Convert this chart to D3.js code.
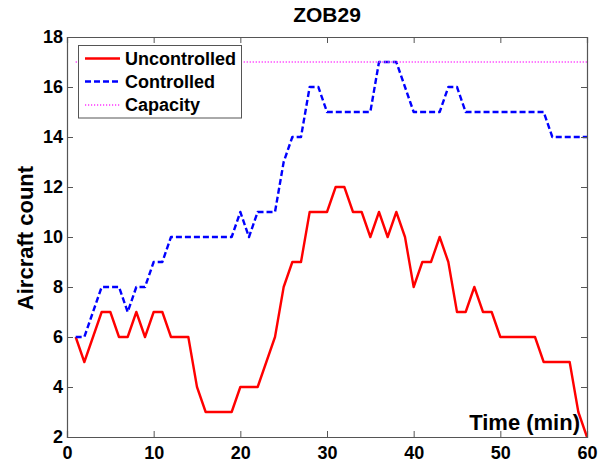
<!DOCTYPE html>
<html><head><meta charset="utf-8">
<script src="https://cdn.jsdelivr.net/npm/d3@7"></script>
<style>body{margin:0;background:#fff}svg text{font-family:"Liberation Sans",Arial,sans-serif;font-weight:bold}</style>
</head><body><svg id="c" width="612" height="466"></svg>
<script>
const title = "ZOB29";
const xLabel = "Time (min)";
const yLabel = "Aircraft count";
const minutes = d3.range(1, 61);
const uncontrolled = [6,5,6,7,7,6,6,7,6,7,7,6,6,6,4,3,3,3,3,4,4,4,5,6,8,9,9,11,11,11,12,12,11,11,10,11,10,11,10,8,9,9,10,9,7,7,8,7,7,6,6,6,6,6,5,5,5,5,3,2];
const controlled = [6,6,7,8,8,8,7,8,8,9,9,10,10,10,10,10,10,10,10,11,10,11,11,11,13,14,14,16,16,15,15,15,15,15,15,17,17,17,16,15,15,15,15,16,16,15,15,15,15,15,15,15,15,15,15,14,14,14,14,14];
const capacity = minutes.map(() => 17);
const xTicks = [0,10,20,30,40,50,60];
const yTicks = [2,4,6,8,10,12,14,16,18];
const seriesNames = ["Uncontrolled","Controlled","Capacity"];

const svg = d3.select("#c");
const L = 67, R = 587, T = 37, B = 437;
const x = d3.scaleLinear().domain([0,60]).range([L,R]);
const y = d3.scaleLinear().domain([2,18]).range([B,T]);
const axisColor = "#555";

const styles = [
  {color:"#ff0000", dash:null, w:2.4},
  {color:"#0000ff", dash:"6,3", w:2.4},
  {color:"#ff33ff", dash:"1.2,1.8", w:1.3}
];
const data = [uncontrolled, controlled, capacity];

const line = d3.line().x((d,i)=>x(minutes[i])).y(d=>y(d));
const g = svg.append("g");
data.forEach((s,k)=>{
  g.append("path").datum(s).attr("d", line).attr("fill","none")
    .attr("stroke", styles[k].color).attr("stroke-width", styles[k].w)
    .attr("stroke-dasharray", styles[k].dash).attr("stroke-linejoin","round");
});

// axes
const axBottom = svg.append("g").attr("transform",`translate(0,${B})`)
  .call(d3.axisBottom(x).tickValues(xTicks).tickSize(-6).tickPadding(10).tickFormat(d3.format("d")));
const axTop = svg.append("g").attr("transform",`translate(0,${T})`)
  .call(d3.axisTop(x).tickValues(xTicks).tickSize(-6).tickFormat(""));
const axLeft = svg.append("g").attr("transform",`translate(${L},0)`)
  .call(d3.axisLeft(y).tickValues(yTicks).tickSize(-6).tickPadding(4).tickFormat(d3.format("d")));
const axRight = svg.append("g").attr("transform",`translate(${R},0)`)
  .call(d3.axisRight(y).tickValues(yTicks).tickSize(-6).tickFormat(""));
[axBottom,axTop,axLeft,axRight].forEach(a=>{
  a.selectAll(".domain").attr("stroke",axisColor).attr("stroke-width",1.2);
  a.selectAll(".tick line").attr("stroke",axisColor);
  a.selectAll(".tick text").attr("font-size",18).attr("fill","#000")
    .attr("font-family","Liberation Sans, Arial, sans-serif").attr("font-weight","bold");
});
axBottom.selectAll(".tick text").attr("dy","0.71em").attr("y",9);
axLeft.selectAll(".tick text").attr("x",-4);

// labels
svg.append("text").attr("x",(L+R)/2).attr("y",22).attr("text-anchor","middle")
  .attr("font-size",21).text(title);
svg.append("text").attr("x",580).attr("y",430).attr("text-anchor","end")
  .attr("font-size",22).text(xLabel);
svg.append("text").attr("transform",`translate(33,238) rotate(-90)`).attr("text-anchor","middle")
  .attr("font-size",22).text(yLabel);

// legend
const lg = svg.append("g");
lg.append("rect").attr("x",78.5).attr("y",45.5).attr("width",163).attr("height",72.5)
  .attr("fill","#fff").attr("stroke",axisColor).attr("stroke-width",1);
const ly = [58.5, 81.5, 105];
seriesNames.forEach((n,k)=>{
  lg.append("line").attr("x1",85).attr("x2",120).attr("y1",ly[k]).attr("y2",ly[k])
    .attr("stroke",styles[k].color).attr("stroke-width",styles[k].w).attr("stroke-dasharray",styles[k].dash);
  lg.append("text").attr("x",125).attr("y",ly[k]).attr("dy","0.35em").attr("font-size",18).text(n);
});
</script></body></html>
